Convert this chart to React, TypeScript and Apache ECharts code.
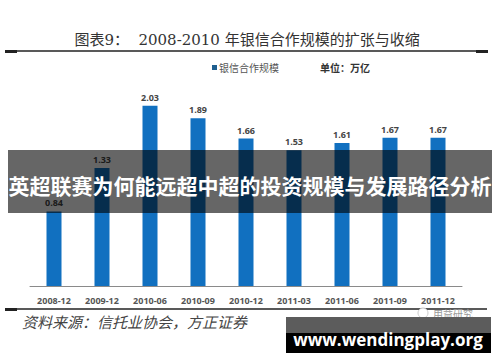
import React, { useEffect, useRef } from "react";
import * as echarts from "echarts";

const categories = ["2008-12", "2009-12", "2010-06", "2010-09", "2010-12", "2011-03", "2011-06", "2011-09", "2011-12"];
const values = [0.84, 1.33, 2.03, 1.89, 1.66, 1.53, 1.61, 1.67, 1.67];
const seriesName = "银信合作规模";
const titleText = "图表9：  2008-2010 年银信合作规模的扩张与收缩";
const unitText = "单位：万亿";
const sourceText = "资料来源：信托业协会，方正证券";
const bannerText = "英超联赛为何能远超中超的投资规模与发展路径分析";
const watermarkText = "www.wendingplay.org";
const logoText = "用益研究";

export default function App() {
  const ref = useRef<HTMLDivElement>(null);
  useEffect(() => {
    const chart = echarts.init(ref.current!, null, { renderer: "svg" });
    chart.setOption({
      animation: false,
      backgroundColor: "#ffffff",
      grid: { left: 30, right: 38, top: 64, bottom: 76 },
      xAxis: {
        type: "category",
        data: categories,
        axisLine: { lineStyle: { color: "#8a8a8a", width: 1 } },
        axisTick: { show: false },
        axisLabel: { color: "#555", fontSize: 9, fontWeight: "bold", margin: 10, fontFamily: "Open Sans" },
      },
      yAxis: { type: "value", min: 0, max: 2.5, show: false, splitLine: { show: false } },
      series: [
        {
          name: seriesName,
          type: "bar",
          data: values,
          barWidth: 15,
          itemStyle: { color: "#1170c0" },
          label: {
            show: true,
            position: "top",
            distance: 4,
            fontSize: 9,
            fontWeight: "bold",
            color: "#444",
            fontFamily: "Open Sans",
            formatter: (p: any) => p.value.toFixed(2),
          },
        },
      ],
      graphic: [
        {
          type: "text",
          x: 247,
          y: 40,
          style: {
            text: titleText,
            fontSize: 15,
            fill: "#333",
            align: "center",
            verticalAlign: "middle",
            fontFamily: "DejaVu Serif, Noto Sans CJK SC, serif",
          },
        },
        { type: "line", shape: { x1: 5, y1: 51, x2: 488, y2: 51 }, style: { stroke: "#222", lineWidth: 1.5 } },
        { type: "rect", shape: { x: 5, y: 50, width: 12, height: 3 }, style: { fill: "#222" } },
        { type: "rect", shape: { x: 476, y: 50, width: 12, height: 3 }, style: { fill: "#222" } },
        { type: "rect", shape: { x: 212, y: 65, width: 5, height: 5 }, style: { fill: "#1f5f8f" } },
        {
          type: "text",
          x: 219,
          y: 62,
          style: { text: seriesName, fontSize: 10, fill: "#555", fontFamily: "Noto Sans CJK SC" },
        },
        {
          type: "text",
          x: 320,
          y: 62,
          style: { text: unitText, fontSize: 10, fontWeight: "bold", fill: "#333", fontFamily: "Noto Sans CJK SC" },
        },
        { type: "line", shape: { x1: 5, y1: 309, x2: 487, y2: 309 }, style: { stroke: "#222", lineWidth: 1.5 } },
        { type: "rect", shape: { x: 5, y: 308, width: 12, height: 3 }, style: { fill: "#222" } },
        {
          type: "text",
          x: 22,
          y: 314,
          style: {
            text: sourceText,
            fontSize: 15,
            fontStyle: "italic",
            fill: "#444",
            fontFamily: "Noto Sans CJK SC",
          },
        },
        { type: "circle", shape: { cx: 423, cy: 313, r: 5 }, style: { fill: "#fff", stroke: "#ccc", lineWidth: 1 } },
        {
          type: "text",
          x: 433,
          y: 308,
          style: { text: logoText, fontSize: 10, fill: "#999", fontFamily: "Noto Sans CJK SC" },
        },
        {
          type: "rect",
          z: 100,
          shape: { x: 8, y: 150, width: 484, height: 63 },
          style: { fill: "rgba(0,0,0,0.6)" },
        },
        {
          type: "text",
          z: 101,
          x: 250,
          y: 185,
          style: {
            text: bannerText,
            fontSize: 21,
            fontWeight: "bold",
            fill: "#fff",
            align: "center",
            verticalAlign: "middle",
            fontFamily: "Noto Sans CJK SC",
          },
        },
        { type: "rect", z: 100, shape: { x: 286, y: 317, width: 205, height: 16 }, style: { fill: "#5c5c5c" } },
        { type: "rect", z: 100, shape: { x: 286, y: 333, width: 205, height: 20 }, style: { fill: "#000" } },
        {
          type: "text",
          z: 101,
          x: 388,
          y: 339,
          style: {
            text: watermarkText,
            fontSize: 17,
            fontWeight: "bold",
            fill: "#fff",
            align: "center",
            verticalAlign: "middle",
            fontFamily: "Open Sans",
          },
        },
      ],
    });
    return () => chart.dispose();
  }, []);
  return <div ref={ref} style={{ width: 500, height: 362, position: "absolute", left: 0, top: 0 }} />;
}
